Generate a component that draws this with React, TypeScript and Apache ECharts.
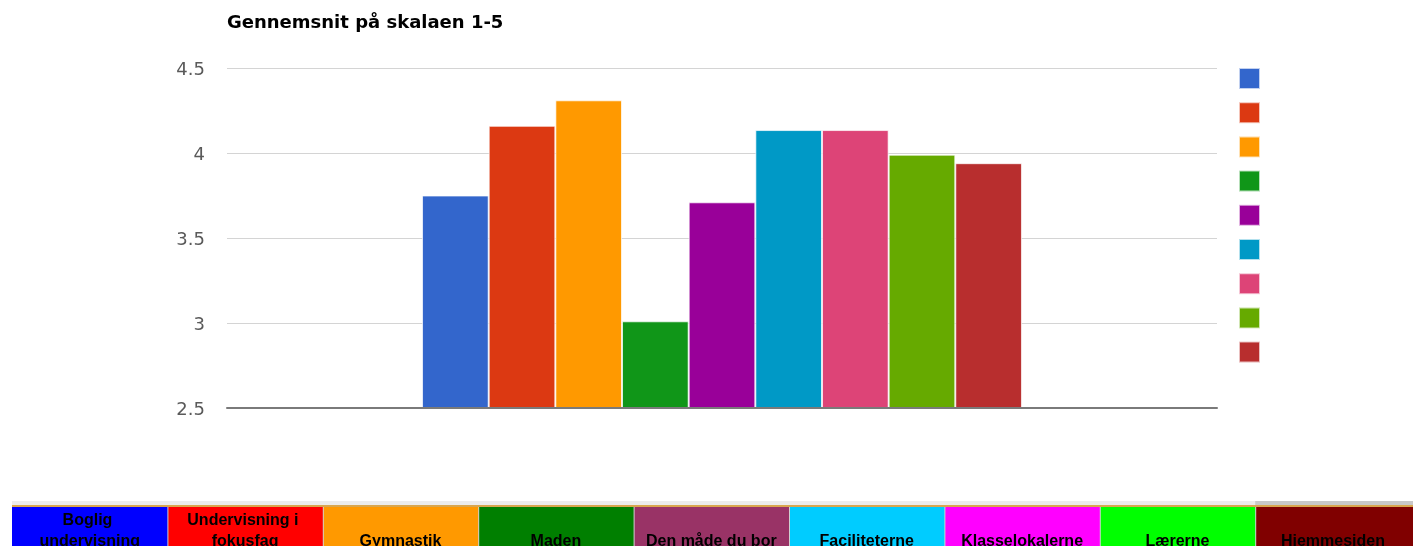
import React, { useEffect, useRef } from "react";
import * as echarts from "echarts";

const categories = [
  "Boglig undervisning",
  "Undervisning i fokusfag",
  "Gymnastik",
  "Maden",
  "Den måde du bor",
  "Faciliteterne",
  "Klasselokalerne",
  "Lærerne",
  "Hjemmesiden",
];
const values = [3.75, 4.16, 4.31, 3.01, 3.71, 4.135, 4.135, 3.99, 3.94];
const barColors = [
  "#3366cc",
  "#dc3912",
  "#ff9900",
  "#109618",
  "#990099",
  "#0099c6",
  "#dd4477",
  "#66aa00",
  "#b82e2e",
];
const cellColors = [
  "#0000ff",
  "#ff0000",
  "#ff9900",
  "#007f00",
  "#993366",
  "#00ccff",
  "#ff00ff",
  "#00ff00",
  "#800000",
];
const title = "Gennemsnit på skalaen 1-5";
const yMin = 2.5;
const yMax = 4.5;
const yStep = 0.5;

export default function App() {
  const ref = useRef<HTMLDivElement>(null);
  useEffect(() => {
    if (!ref.current) return;
    const chart = echarts.init(ref.current, undefined, { renderer: "svg" });

    const cellX0 = 12;
    const cellW = 155.4;
    const graphics: any[] = [];
    graphics.push({
      type: "rect",
      shape: { x: cellX0, y: 501, width: 1413 - cellX0, height: 4.5 },
      style: { fill: "#ececec" },
      silent: true,
    });
    graphics.push({
      type: "rect",
      shape: { x: cellX0 + 8 * cellW, y: 501, width: 1413, height: 4.5 },
      style: { fill: "#c8c8c8" },
      silent: true,
    });
    graphics.push({
      type: "rect",
      shape: { x: cellX0, y: 505, width: 1413 - cellX0, height: 2 },
      style: { fill: "#d9a64e" },
      silent: true,
    });
    graphics.push({
      type: "rect",
      shape: { x: cellX0, y: 507, width: 1413 - cellX0, height: 40 },
      style: { fill: "#d0d0d0" },
      silent: true,
    });
    categories.forEach((name, i) => {
      const x = cellX0 + i * cellW;
      const last = i === categories.length - 1;
      graphics.push({
        type: "rect",
        shape: {
          x: i === 0 ? x : x + 1,
          y: 507,
          width: last ? 1413 - x : i === 0 ? cellW : cellW - 1,
          height: 40,
        },
        style: { fill: cellColors[i] },
        silent: true,
      });
      graphics.push({
        type: "text",
        x: x + cellW / 2,
        y: 551,
        silent: true,
        style: {
          text: name,
          width: 150,
          overflow: "break",
          align: "center",
          verticalAlign: "bottom",
          textAlign: "center",
          textVerticalAlign: "bottom",
          lineHeight: 21,
          font: "bold 16px 'Liberation Sans', Arial, sans-serif",
          fill: "#000",
        },
      });
    });

    chart.setOption({
      animation: false,
      title: {
        text: title,
        left: 227,
        top: 12,
        padding: 0,
        textStyle: {
          fontFamily: "DejaVu Sans",
          fontWeight: "bold",
          fontSize: 18,
          color: "#000",
        },
      },
      legend: {
        orient: "vertical",
        left: 1238,
        top: 67,
        padding: 0,
        itemWidth: 21,
        itemHeight: 21,
        itemGap: 11.2,
        icon: "rect",
        selectedMode: false,
        formatter: () => "",
        textStyle: { fontSize: 1 },
        data: categories,
      },
      grid: { left: 227, right: 196, top: 68, bottom: 138, containLabel: false },
      xAxis: {
        type: "category",
        data: [""],
        axisLine: { show: true, lineStyle: { color: "#7a7a7a", width: 2 } },
        axisTick: { show: false },
        axisLabel: { show: false },
        z: 10,
      },
      yAxis: {
        type: "value",
        min: yMin,
        max: yMax,
        interval: yStep,
        axisLine: { show: false },
        axisTick: { show: false },
        axisLabel: {
          margin: 22,
          fontFamily: "DejaVu Sans",
          fontSize: 18,
          color: "#5a5a5a",
        },
        splitLine: { lineStyle: { color: "#d4d4d4", width: 1 } },
      },
      series: categories.map((name, i) => ({
        name,
        type: "bar",
        data: [values[i]],
        barGap: "0%",
        barCategoryGap: "39.4%",
        itemStyle: {
          color: barColors[i],
          borderColor: "rgba(255,255,255,0.7)",
          borderWidth: 1,
        },
      })),
      graphic: graphics,
    });
    return () => chart.dispose();
  }, []);
  return (
    <div
      ref={ref}
      style={{ position: "fixed", left: 0, top: 0, width: 1413, height: 546 }}
    />
  );
}
